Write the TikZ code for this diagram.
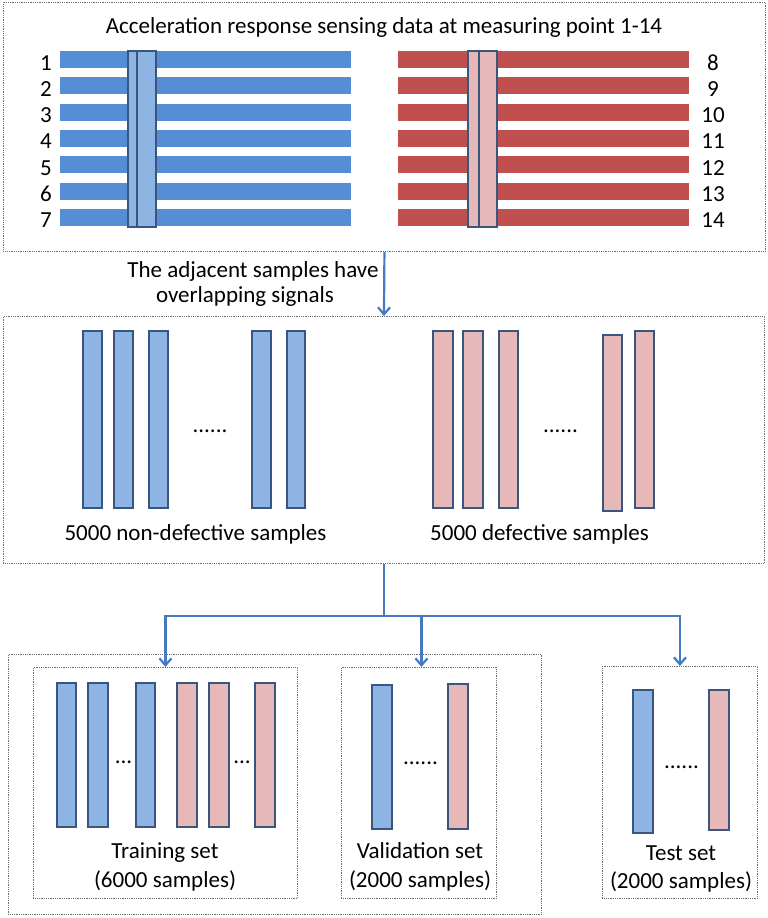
\documentclass[tikz,border=0pt]{standalone}
\usepackage{fontspec}
\setmainfont{Carlito}
\usetikzlibrary{arrows.meta}
\definecolor{barblue}{RGB}{85,142,213}
\definecolor{barred}{RGB}{192,80,77}
\definecolor{lblue}{RGB}{142,180,227}
\definecolor{lpink}{RGB}{230,185,184}
\definecolor{navy}{RGB}{56,86,128}
\definecolor{arrblue}{RGB}{70,122,192}
\definecolor{dotgray}{RGB}{110,110,110}
\begin{document}
\begin{tikzpicture}[x=1pt,y=-1pt,
 box/.style={draw=dotgray, line width=0.9pt, dash pattern=on 0.9pt off 0.9pt, rectangle, inner sep=0pt, anchor=north west},
 conn/.style={draw=arrblue, line width=2.2pt},
 arr/.style={conn, -{Straight Barb[length=7pt,width=12pt,line width=2.2pt]}},
 txt/.style={font=\fontsize{23}{27}\selectfont, inner sep=0pt, anchor=base},
 sb/.style={fill=lblue, draw=navy, line width=1.4pt},
 sr/.style={fill=lpink, draw=navy, line width=1.4pt},
]
\useasboundingbox (0,0) rectangle (768,918);
\fill[white] (0,0) rectangle (768,918);

% boxes
\node[box, minimum width=762pt, minimum height=249pt] (top) at (3,2) {};
\node[box, minimum width=761pt, minimum height=247pt] (mid) at (3,316) {};
\node[box, minimum width=533pt, minimum height=260pt] (outer) at (8,654) {};
\node[box, minimum width=264pt, minimum height=231pt] (train) at (33,667) {};
\node[box, minimum width=155pt, minimum height=231pt] (val) at (341,667) {};
\node[box, minimum width=155pt, minimum height=232pt] (test) at (602,666) {};

% top section
\node[txt] (title) at (384,33) {Acceleration response sensing data at measuring point 1-14};
\foreach \i in {0,...,6} {
  \fill[barblue] (60,{51+26.33*\i}) rectangle (351,{68+26.33*\i});
  \fill[barred] (398,{51+26.33*\i}) rectangle (689,{68+26.33*\i});
}
\foreach \n [count=\i from 0] in {1,...,7} \node[txt] (nl\n) at (46,{70+26.33*\i}) {\n};
\foreach \n [count=\i from 0] in {8,...,14} \node[txt] (nr\n) at (713,{70+26.33*\i}) {\n};
\draw[sb] (128,51) rectangle (156,227);
\draw[sb] (137,51) rectangle (156,227);
\draw[sr] (468,51) rectangle (497,227);
\draw[sr] (479,51) rectangle (497,227);

\node[txt] (adj1) at (253,277) {The adjacent samples have};
\node[txt] (adj2) at (245,302) {overlapping signals};
\draw[arr] (top.south) -- (mid.north);

% middle section
\foreach \a/\b in {83/102,114/133,149/168,252/271,287/305}
  \draw[sb] (\a,331) rectangle (\b,508);
\foreach \a/\b in {433/453,463/483,499/518,635/654}
  \draw[sr] (\a,331) rectangle (\b,508);
\draw[sr] (603,335) rectangle (622,511);
\node[txt] (dm1) at (210,432) {......};
\node[txt] (dm2) at (560.5,432) {......};
\node[txt] (lnd) at (195.5,540) {5000 non-defective samples};
\node[txt] (ld) at (539.5,540) {5000 defective samples};

% split connectors
\coordinate (split) at (mid.south |- 0,616);
\draw[conn] (mid.south) -- (split);
\draw[arr] (split) -| (train.north);
\draw[arr] (split) -| ([xshift=2.5pt]val.north);
\draw[arr] (split) -| (test.north);

% training
\foreach \a/\b in {57/76,88/108,136/155}
  \draw[sb] (\a,683) rectangle (\b,827);
\foreach \a/\b in {177/197,209/229,255/275}
  \draw[sr] (\a,683) rectangle (\b,827);
\node[txt] (dt1) at (123.5,763) {...};
\node[txt] (dt2) at (242,763) {...};
\node[txt] (lt1) at (165,858) {Training set};
\node[txt] (lt2) at (165,887) {(6000 samples)};

% validation
\draw[sb] (372,685) rectangle (392,829);
\draw[sr] (448,684) rectangle (468,829);
\node[txt] (dv) at (420.5,764) {......};
\node[txt] (lv1) at (420,858) {Validation set};
\node[txt] (lv2) at (420,887) {(2000 samples)};

% test
\draw[sb] (633,690) rectangle (653,833);
\draw[sr] (709,690) rectangle (729,830);
\node[txt] (dte) at (681.5,768) {......};
\node[txt] (lte1) at (681,860) {Test set};
\node[txt] (lte2) at (681,888) {(2000 samples)};
\end{tikzpicture}
\end{document}
